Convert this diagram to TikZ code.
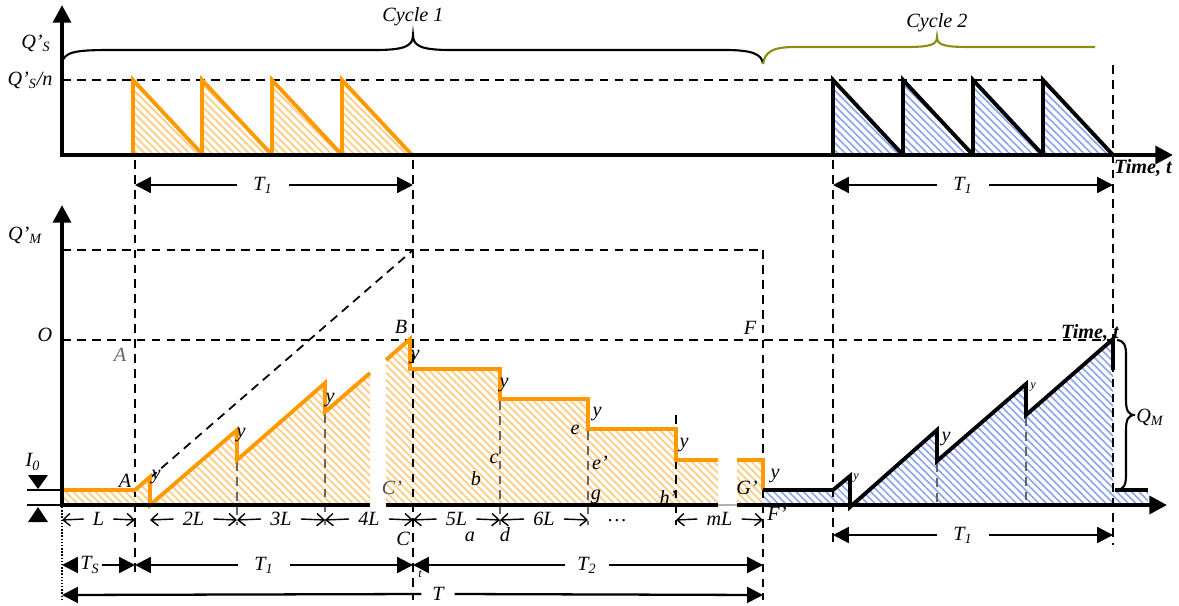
\documentclass[tikz,border=0pt]{standalone}
\usepackage{fontspec}
\setmainfont{Liberation Serif}
\usetikzlibrary{arrows.meta,patterns.meta}
\definecolor{orng}{RGB}{255,153,0}
\definecolor{olv}{RGB}{140,140,20}
\definecolor{hblue}{RGB}{60,100,230}
\newcommand\sbs[1]{\textsubscript{#1}}
\begin{document}
\begin{tikzpicture}[x=0.02cm,y=-0.02cm,
  every node/.style={font=\fontsize{11.5}{13}\selectfont\itshape, inner sep=1pt},
  sm/.style={font=\fontsize{7}{8}\selectfont\itshape},
  ax/.style={line width=2.4pt},
  axarrow/.style={ax,-{Triangle[length=10pt,width=10pt]}},
  dsh/.style={line width=1pt, dash pattern=on 5pt off 3.5pt},
  gdsh/.style={dsh, black!60},
  orl/.style={orng, line width=2.2pt, line join=miter},
  bkl/.style={black, line width=2.2pt, line join=miter},
  ohatch/.style={pattern={Lines[angle=-45,distance=3pt,line width=1pt]}, pattern color=orng!50},
  bhatch/.style={pattern={Lines[angle=-45,distance=3pt,line width=0.9pt]}, pattern color=hblue!60},
  dimb/.style={line width=0.8pt, -{Straight Barb[length=4pt,width=7pt]}},
  dimt/.style={line width=1.3pt, -{Triangle[length=9pt,width=9pt]}},
  brc/.style={line width=1.2pt},
]
\useasboundingbox (0,0) rectangle (1179,605);

% ---------------- top chart ----------------
\draw[dsh] (62,80) -- (1043,80);
\foreach \x in {133,202,272,342} {
  \fill[ohatch] (\x,155) -- (\x,80) -- (\x+70,155) -- cycle;
  \draw[orl] (\x,155) -- (\x,80) -- (\x+70,155);
}
\foreach \x in {833,903,973,1043} {
  \fill[bhatch] (\x,155) -- (\x,80) -- (\x+70,155) -- cycle;
  \draw[bkl] (\x,155) -- (\x,80) -- (\x+70,155);
}
\draw[axarrow] (62,157) -- (62,5);
\draw[axarrow] (60,155) -- (1173,155);

\draw[brc] (62,63) .. controls (64,52) and (75,50) .. (110,50) -- (375,50)
  .. controls (405,50) and (413,46) .. (413,35) .. controls (413,46) and (421,50) .. (451,50)
  -- (725,50) .. controls (752,50) and (762,54) .. (763,64);
\draw[brc, olv] (763,64) .. controls (765,52) and (772,47) .. (795,47) -- (905,47)
  .. controls (930,47) and (937,45) .. (937,37) .. controls (937,45) and (944,47) .. (969,47) -- (1095,47);

\node (c1) at (413,17) {Cycle 1};
\node (c2) at (937,23) {Cycle 2};
\node (qs) at (36,43) {Q'\sbs{S}};
\node (qsn) at (30,80) {Q'\sbs{S}/n};
\node[font=\fontsize{11.5}{13}\selectfont\bfseries\itshape] (time1) at (1143,168) {Time, t};

\node[inner xsep=9pt] (t1top) at (263,185) {T\sbs{1}};
\coordinate (t1topL) at (135,185); \coordinate (t1topR) at (413,185);
\draw[dimt] (t1top.west) -- (t1topL);
\draw[dimt] (t1top.east) -- (t1topR);
\node[inner xsep=9pt] (t1r) at (963,185) {T\sbs{1}};
\coordinate (t1rL) at (833,185); \coordinate (t1rR) at (1113,185);
\draw[dimt] (t1r.west) -- (t1rL);
\draw[dimt] (t1r.east) -- (t1rR);

% ---------------- bottom chart ----------------
\fill[ohatch] (62,505) -- (62,490) -- (135,490) -- (150,477) -- (150,505) -- (237,430) -- (237,460)
  -- (325,383) -- (325,412) -- (370,373) -- (370,505) -- cycle;
\fill[ohatch] (386,505) -- (386,360) -- (410,339) -- (410,369) -- (500,369) -- (500,399) -- (588,399)
  -- (588,429) -- (676,429) -- (676,460) -- (718,460) -- (718,505) -- cycle;
\fill[ohatch] (737,505) -- (737,460) -- (763,460) -- (763,505) -- cycle;
\fill[bhatch] (763,505) -- (763,490) -- (833,490) -- (850,476) -- (850,505) -- (937,430) -- (937,461)
  -- (1026,384) -- (1026,415) -- (1113,339) -- (1113,490) -- (1148,490) -- (1148,505) -- cycle;

% dashed guides
\draw[dsh] (62,250) -- (763,250);
\draw[dsh] (62,340) -- (1113,340);
\draw[dsh] (150,478) -- (413,250);
\draw[dsh] (135,160) -- (135,572);
\draw[dsh] (413,160) -- (413,600);
\draw[dsh] (763,250) -- (763,600);
\draw[dsh] (833,160) -- (833,545);
\draw[dsh] (1113,65) -- (1113,545);
\draw[dsh] (676,415) -- (676,525);
\foreach \x/\y in {237/432, 325/414, 500/371, 588/431} { \draw[gdsh] (\x,\y) -- (\x,525); }
\foreach \x/\y in {937/463, 1026/417} { \draw[gdsh] (\x,\y) -- (\x,505); }

% curves
\draw[orl] (62,490) -- (135,490) -- (150,477) -- (150,505) -- (237,430) -- (237,460) -- (325,383) -- (325,412) -- (370,373);
\draw[orl] (386,360) -- (410,339) -- (410,369) -- (500,369) -- (500,399) -- (588,399) -- (588,429) -- (676,429) -- (676,460) -- (718,460);
\draw[orl] (737,460) -- (763,460) -- (763,490);
\draw[bkl] (763,490) -- (833,490) -- (850,476) -- (850,507) -- (937,430) -- (937,461) -- (1026,384) -- (1026,415) -- (1113,339) -- (1113,370);
\draw[bkl] (1115,490) -- (1148,490);

% axes
\draw[ax] (60,505) -- (370,505);
\draw[ax] (386,505) -- (718,505);
\draw[black!30, line width=0.6pt] (718,505) -- (737,505);
\draw[axarrow] (737,505) -- (1167,505);
\draw[axarrow] (62,507) -- (62,205);
\draw[densely dotted, line width=0.8pt] (62,507) -- (62,600);

% I0 marker
\draw[line width=1pt] (27,490) -- (62,490);
\draw[line width=1pt] (27,505) -- (62,505);
\fill (28,475) -- (48,475) -- (38,489) -- cycle;
\fill (28,522) -- (48,522) -- (38,507) -- cycle;
\node (i0) at (33,462) {I\sbs{0}};

% Q_M brace
\draw[brc] (1117,340) .. controls (1124,341) and (1126,345) .. (1126,355) -- (1126,400)
  .. controls (1126,410) and (1128,415) .. (1135,415) .. controls (1128,415) and (1126,420) .. (1126,430)
  -- (1126,475) .. controls (1126,485) and (1124,489) .. (1117,490);
\node (qm) at (1150,417) {Q\sbs{M}};

% labels
\node (qmp) at (25,235) {Q'\sbs{M}};
\node (o) at (45,335) {O};
\node[text=black!60] (a1) at (120,355) {A};
\node (a2) at (125,481) {A};
\node (b) at (401,327) {B};
\node (f) at (750,328) {F};
\node[text=black!70] (cp) at (392,488) {C'};
\node (lb) at (476,479) {b};
\node (lc) at (494,459) {c};
\node (le) at (575,430) {e};
\node (lep) at (600,463) {e'};
\node (lg) at (596,497) {g};
\node (lhp) at (668,497) {h'};
\node (lgp) at (747,488) {G'};
\node (time2) [font=\fontsize{11.5}{13}\selectfont\bfseries\itshape] at (1090,333) {Time, t};
\node (y1) at (156,477) {y};
\node (y2) at (241,435) {y};
\node (y3) at (330,400) {y};
\node (y4) at (415,357) {y};
\node (y5) at (504,385) {y};
\node (y6) at (597,414) {y};
\node (y7) at (684,445) {y};
\node (y8) at (775,476) {y};
\node[sm] (y9) at (856,478) {y};
\node (y10) at (946,439) {y};
\node[sm] (y11) at (1033,387) {y};

% dimension row (y=520)
\foreach \a/\b/\t/\n in {62/135/L/d1, 150/237/2L/d2, 237/325/3L/d3, 325/413/4L/d4, 413/500/5L/d5, 500/588/6L/d6, 676/763/mL/d7} {
  \node[inner xsep=5pt] (\n) at ({(\a+\b)/2},519) {\t};
  \coordinate (\n L) at (\a,520);
  \coordinate (\n R) at (\b,520);
  \draw[dimb] (\n.west) -- (\n L);
  \draw[dimb] (\n.east) -- (\n R);
}
\node[font=\fontsize{11.5}{13}\selectfont] (dots) at (617,521) {…};
\node (lfp) at (777,514) {F'};
\node (lC) at (403,539) {C};
\node (la) at (470,537) {a};
\node (ld) at (505,535) {d};
\node[sm] (lt) at (420,574) {t};

% T rows
\node (ts) at (90,565) {T\sbs{S}};
\coordinate (tsL) at (62,565); \coordinate (tsR) at (135,565);
\draw[dimt] (ts.west) -- (tsL);
\draw[dimt] (ts.east) -- (tsR);
\node[inner xsep=9pt] (t1b) at (264,565) {T\sbs{1}};
\coordinate (t1bL) at (135,565); \coordinate (t1bR) at (413,565);
\draw[dimt] (t1b.west) -- (t1bL);
\draw[dimt] (t1b.east) -- (t1bR);
\node[inner xsep=7pt] (t2) at (587,565) {T\sbs{2}};
\coordinate (t2L) at (413,565); \coordinate (t2R) at (763,565);
\draw[dimt] (t2.west) -- (t2L);
\draw[dimt] (t2.east) -- (t2R);
\node[inner xsep=6pt] (tt) at (438,594) {T};
\coordinate (ttL) at (62,595); \coordinate (ttR) at (763,595);
\draw[dimt] (tt.west) -- (ttL);
\draw[dimt] (tt.east) -- (ttR);
\node[inner xsep=9pt] (t1c) at (963,535) {T\sbs{1}};
\coordinate (t1cL) at (833,535); \coordinate (t1cR) at (1113,535);
\draw[dimt] (t1c.west) -- (t1cL);
\draw[dimt] (t1c.east) -- (t1cR);
\end{tikzpicture}
\end{document}
